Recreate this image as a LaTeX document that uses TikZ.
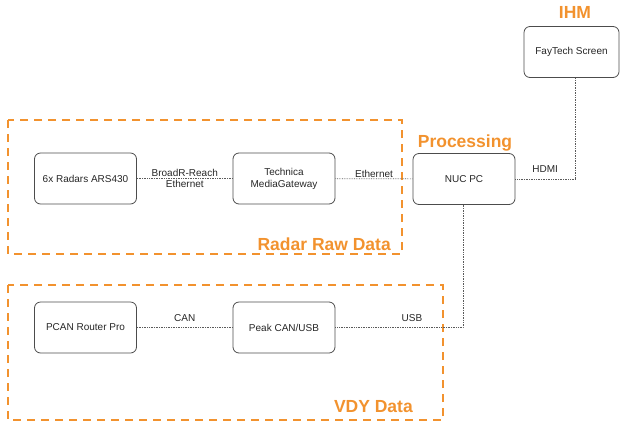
\documentclass[tikz,border=0pt]{standalone}
\usepackage{fontspec}
\setmainfont{Liberation Sans}
\definecolor{groupOrange}{RGB}{242,146,46}
\definecolor{linkGray}{RGB}{90,90,90}
\newcommand{\groupFont}[0]{\fontsize{17.5}{19}\selectfont\bfseries}

\begin{document}
\begin{tikzpicture}[x=1pt, y=-1pt]
  \tikzset{device/.style={draw=black!70, rounded corners=6pt, line width=0.8pt,
      minimum width=102pt, minimum height=51pt, align=center,
      font=\fontsize{10}{12}\selectfont, text=black!85},
    group/.style={draw=groupOrange, line width=2.2pt, dash pattern=on 8pt off 6pt},
    grouplabel/.style={text=groupOrange, font=\groupFont, inner sep=0pt},
    link/.style={draw=linkGray, line width=0.7pt, densely dotted},
    linklabel/.style={font=\fontsize{10}{11}\selectfont, text=black!85, align=center, inner sep=1pt}}
  \useasboundingbox (0,0) rectangle (620,426);
  % groups
  \draw[group] (8,120) rectangle (402,254);
  \draw[group] (8,285) rectangle (443,420);
  \node[grouplabel, anchor=east] (rawlbl) at (391,244) {Radar Raw Data};
  \node[grouplabel, anchor=east] (vdylbl) at (413,407) {VDY Data};
  \node[grouplabel] (proclbl) at (465,143) {Processing};
  \node[grouplabel] (ihmlbl) at (575,12) {IHM};
  % devices
  \node[device] (radars) at (85.5,178.5) {6x Radars ARS430};
  \node[device] (gateway) at (284,178.5) {Technica\\MediaGateway};
  \node[device] (nuc) at (464,179) {NUC PC};
  \node[device, minimum width=95pt] (screen) at (571.5,52) {FayTech Screen};
  \node[device] (pcan) at (85.5,327.5) {PCAN Router Pro};
  \node[device] (peak) at (284,327.5) {Peak CAN/USB};
  % links
  \coordinate (hdmiturn) at (575,179);
  \coordinate (usbturn) at (463,327.5);
  \draw[link] (radars) -- node[linklabel] (brlbl) {BroadR-Reach\\Ethernet} (gateway);
  \draw[link] (gateway) -- node[linklabel, above] (ethlbl) {Ethernet} (nuc);
  \draw[link] (nuc.east) -- node[linklabel, above=5pt] (hdmilbl) {HDMI} (hdmiturn) -- (hdmiturn |- screen.south);
  \draw[link] (pcan) -- node[linklabel, above=5pt] (canlbl) {CAN} (peak);
  \draw[link] (peak.east) -- node[linklabel, above=5pt, pos=0.6] (usblbl) {USB} (usbturn) -- (usbturn |- nuc.south);
\end{tikzpicture}
\end{document}
